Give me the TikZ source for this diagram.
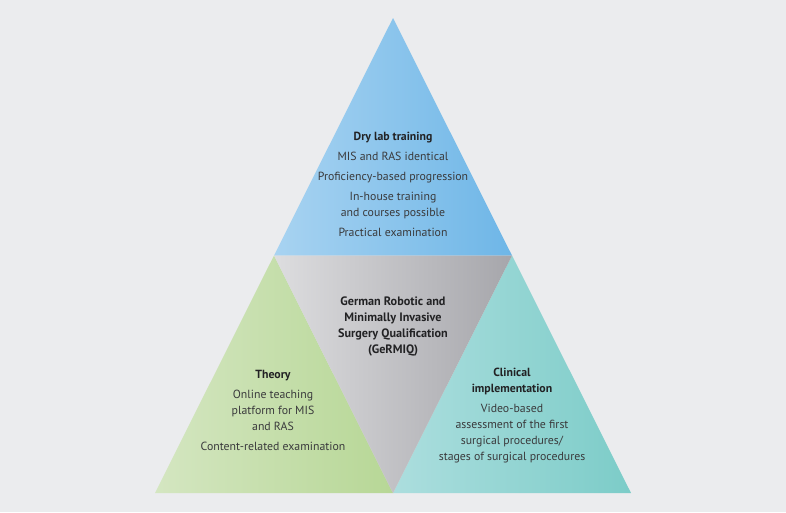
\documentclass[tikz,border=0pt]{standalone}
\usepackage{fontspec}
\setmainfont{PT Sans}
\usepackage{tikz}
\usetikzlibrary{positioning, calc}
\usepackage{xcolor}
\definecolor{bgpage}{RGB}{235,236,238}
\definecolor{blueL}{RGB}{168,211,241}
\definecolor{blueR}{RGB}{110,182,231}
\definecolor{greenL}{RGB}{212,230,193}
\definecolor{greenR}{RGB}{183,215,150}
\definecolor{tealL}{RGB}{172,222,222}
\definecolor{tealR}{RGB}{124,204,200}
\definecolor{greyL}{RGB}{221,221,223}
\definecolor{greyR}{RGB}{166,166,171}
\definecolor{txt}{RGB}{58,58,60}
\definecolor{txthead}{RGB}{34,34,36}

\tikzset{
  blocktext/.style={align=center, text=txt, font=\fontsize{11.8}{16}\selectfont, inner sep=0pt},
}
\newcommand{\headline}[1]{{\bfseries\color{txthead}#1}}

\begin{document}
\begin{tikzpicture}[x=1pt, y=-1pt]
  \fill[bgpage] (0,0) rectangle (786,512);
  % corners of the pyramid
  \coordinate (apex) at (393,18);
  \coordinate (baseL) at (155,493);
  \coordinate (baseR) at (631,493);
  \coordinate (midL) at ($(apex)!0.5!(baseL)$);
  \coordinate (midR) at ($(apex)!0.5!(baseR)$);
  \coordinate (baseM) at ($(baseL)!0.5!(baseR)$);
  \shade[left color=blueL, right color=blueR] (apex) -- (midL) -- (midR) -- cycle;
  \shade[left color=greenL, right color=greenR] (midL) -- (baseL) -- (baseM) -- cycle;
  \shade[left color=tealL, right color=tealR] (midR) -- (baseM) -- (baseR) -- cycle;
  \shade[left color=greyL, right color=greyR] (midL) -- (midR) -- (baseM) -- cycle;
  % texts
  \node[blocktext] (drylab) at (393,184.5) {\headline{Dry lab training}\\[4pt]
    MIS and RAS identical\\[4pt]
    Proficiency-based progression\\[4pt]
    In-house training\\ and courses possible\\[4pt]
    Practical examination};
  \node[blocktext, font=\bfseries\fontsize{12.2}{15.7}\selectfont, text=txthead] (germiq) at (393,326.5)
    {German Robotic and\\ Minimally Invasive\\ Surgery Qualification\\ (GeRMIQ)};
  \node[blocktext] (theory) at (273,410.5) {\headline{Theory}\\[4pt]
    Online teaching\\ platform for MIS\\ and RAS\\[4pt]
    Content-related examination};
  \node[blocktext] (clinical) at (512,416) {\headline{Clinical}\\ \headline{implementation}\\[4pt]
    Video-based\\ assessment of the first\\ surgical procedures/\\ stages of surgical procedures};
\end{tikzpicture}
\end{document}
